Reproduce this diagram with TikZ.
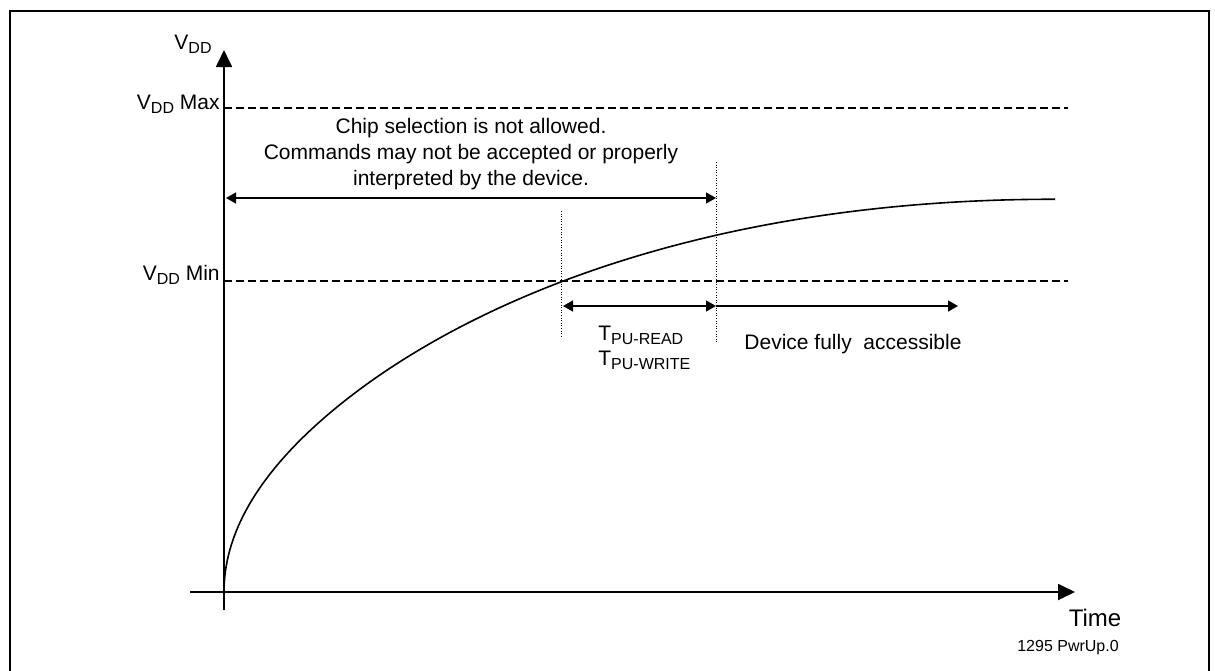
\documentclass[tikz,border=0pt]{standalone}
\usepackage{fontspec}
\setmainfont{Liberation Sans}
\usetikzlibrary{arrows.meta}
\newcommand{\subtxt}[1]{\raisebox{-0.4ex}{\fontsize{8}{8}\selectfont #1}}

\begin{document}
\begin{tikzpicture}[x=0.5pt,y=-0.5pt,
	txt/.style={inner sep=0pt,font=\fontsize{10.5}{13}\selectfont},
	axisline/.style={line width=0.9pt,-{Triangle[length=8.5pt,width=8pt]}},
	limitline/.style={line width=0.8pt,dash pattern=on 4pt off 2pt},
	guideline/.style={line width=0.4pt,dash pattern=on 0.5pt off 0.8pt},
	spanarrow/.style={line width=0.7pt,{Triangle[length=5pt,width=5.5pt]}-{Triangle[length=5pt,width=5.5pt]}},
	onearrow/.style={line width=0.7pt,-{Triangle[length=5pt,width=5.5pt]}}]
			\useasboundingbox (0,0) rectangle (1215,670);
			\draw[line width=1pt] (10,680) -- (10,11) -- (1209,11) -- (1209,680);
			
			\coordinate (o)at(224,592);
			\coordinate (ybot)at(224,610);
			\coordinate (ytop)at(224,50);
			\coordinate (xl)at(190,592);
			\coordinate (xr)at(1075,592);
			\coordinate (maxl)at(224,108);
			\coordinate (maxr)at(1068,108);
			\coordinate (minl)at(224,281);
			\coordinate (minr)at(1068,281);
			\coordinate (g1top)at(561,211);
			\coordinate (g1bot)at(561,337);
			\coordinate (g2top)at(716,162);
			\coordinate (g2bot)at(716,342);
			\coordinate (chipl)at(226,198);
			\coordinate (chipr)at(716,198);
			\coordinate (pul)at(563,306);
			\coordinate (pur)at(716,306);
			\coordinate (accr)at(958,306);
			
			\node[txt] (vdd)at(193,44) {V\subtxt{DD}};
			\node[txt,anchor=east] (vmax)at(220,104) {V\subtxt{DD} Max};
			\node[txt,anchor=east] (vmin)at(220,275) {V\subtxt{DD} Min};
			\node[txt,align=center] (chip)at(471,154) {Chip selection is not allowed.\\Commands may not be accepted or properly\\interpreted by the device.};
			\node[txt,anchor=base west] (tread)at(598,340) {T\subtxt{PU-READ}};
			\node[txt,anchor=base west] (twrite)at(598,365) {T\subtxt{PU-WRITE}};
			\node[txt] (access)at(853,344) {Device fully\ \ accessible};
			\node[inner sep=0pt,font=\fontsize{12}{12}\selectfont] (time)at(1095,618) {Time};
			\node[inner sep=0pt,font=\fontsize{8}{8}\selectfont] (fig)at(1068,648) {1295 PwrUp.0};
			
			\draw[axisline] (ybot) -- (ytop);
			\draw[axisline] (xl) -- (xr);
			\draw[limitline] (maxl) -- (maxr);
			\draw[limitline] (minl) -- (minr);
			\draw[guideline] (g1top) -- (g1bot);
			\draw[guideline] (g2top) -- (g2bot);
			\draw[spanarrow] (chipl) -- (chipr);
			\draw[spanarrow] (pul) -- (pur);
			\draw[onearrow] (pur) -- (accr);
			\draw[line width=0.8pt] plot[domain=0:28.83,samples=160,variable=\s] ({224+\s*\s},{592-17.4*\s+0.01657*pow(max(\s-10.1,0),3)});
		\end{tikzpicture}
\end{document}
